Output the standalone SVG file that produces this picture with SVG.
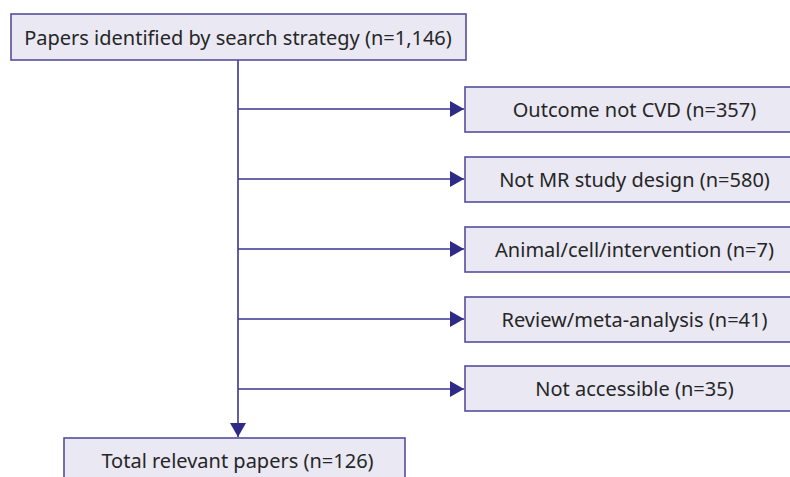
<svg xmlns="http://www.w3.org/2000/svg" width="790" height="477" viewBox="0 0 790 477">
<defs>
<style>
.box{fill:#e9e8f3;stroke:#554e9c;stroke-width:1.6}
.t{font-family:"Noto Sans","Open Sans",sans-serif;font-size:20px;fill:#262626;text-anchor:middle}
.c{stroke:#3a3590;stroke-width:1.6;fill:none}
</style>
<marker id="ah" markerWidth="14" markerHeight="16" refX="14" refY="8" orient="auto" markerUnits="userSpaceOnUse">
<path d="M0,0 L14,8 L0,16 Z" fill="#2e2a86"/>
</marker>
</defs>
<rect width="790" height="477" fill="#ffffff"/>
<g id="connectors">
<path class="c" d="M238,60 V437" marker-end="url(#ah)"/>
<path class="c" d="M238,109 H464" marker-end="url(#ah)"/>
<path class="c" d="M238,179 H464" marker-end="url(#ah)"/>
<path class="c" d="M238,249 H464" marker-end="url(#ah)"/>
<path class="c" d="M238,319 H464" marker-end="url(#ah)"/>
<path class="c" d="M238,389 H464" marker-end="url(#ah)"/>
</g>
<g id="n-search"><rect class="box" x="11" y="14" width="455" height="46"/><text class="t" x="238" y="45">Papers identified by search strategy (n=1,146)</text></g>
<g id="n-outcome"><rect class="box" x="465" y="87" width="345" height="45"/><text class="t" x="634.5" y="116.5">Outcome not CVD (n=357)</text></g>
<g id="n-design"><rect class="box" x="465" y="157" width="345" height="45"/><text class="t" x="634.5" y="186.5">Not MR study design (n=580)</text></g>
<g id="n-animal"><rect class="box" x="465" y="227" width="345" height="45"/><text class="t" x="634.5" y="256.5">Animal/cell/intervention (n=7)</text></g>
<g id="n-review"><rect class="box" x="465" y="297" width="345" height="45"/><text class="t" x="634.5" y="326.5">Review/meta-analysis (n=41)</text></g>
<g id="n-access"><rect class="box" x="465" y="366" width="345" height="45"/><text class="t" x="634.5" y="396">Not accessible (n=35)</text></g>
<g id="n-total"><rect class="box" x="64" y="438" width="341" height="50"/><text class="t" x="237.5" y="468">Total relevant papers (n=126)</text></g>
</svg>
